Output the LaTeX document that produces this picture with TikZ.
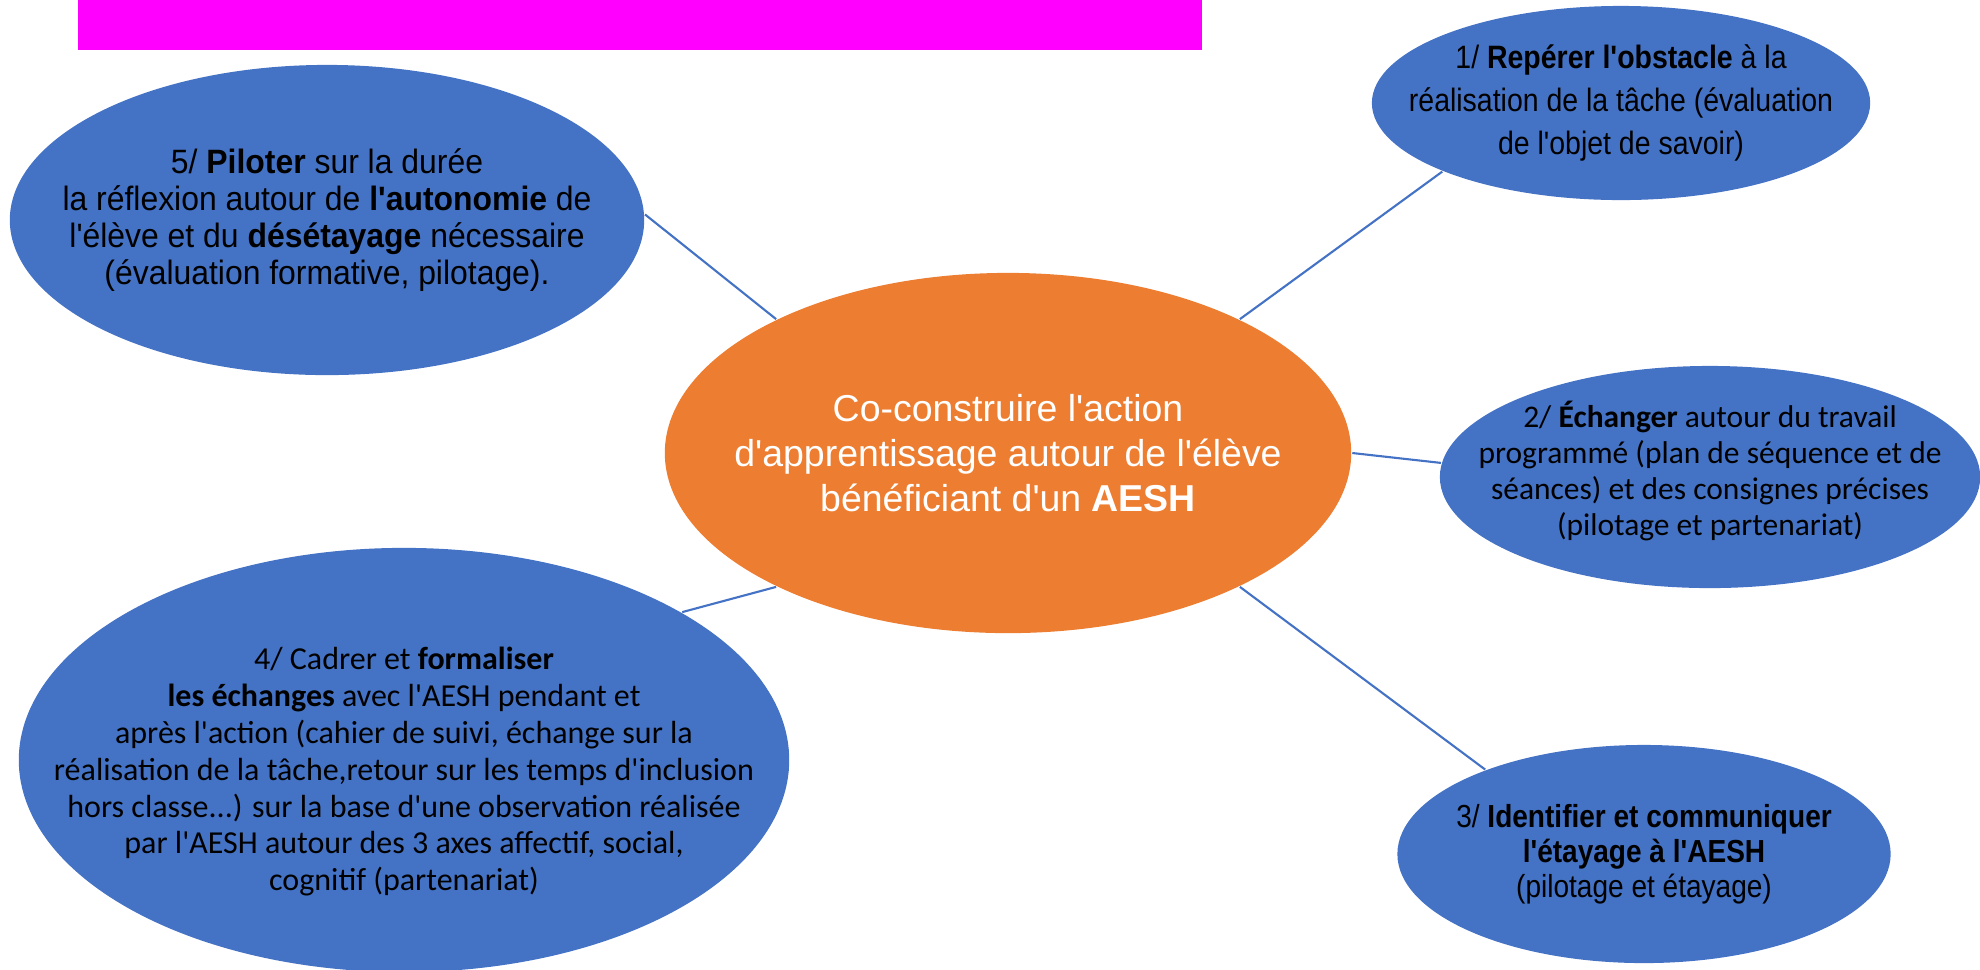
\documentclass[tikz,border=0pt]{standalone}
\usepackage{fontspec}
\setmainfont{Liberation Sans}
\newfontfamily\arial{Liberation Sans}
\newfontfamily\arialn[FakeStretch=0.88]{Liberation Sans}
\newfontfamily\arialm[FakeStretch=0.945]{Liberation Sans}
\newfontfamily\calib{Carlito}
\usepackage{xcolor}
\usepackage{tikz}
\usetikzlibrary{shapes,positioning}

\definecolor{bulle}{HTML}{4472C4}
\definecolor{coeur}{HTML}{ED7D31}
\definecolor{bandeau}{HTML}{FF00FF}

\begin{document}
\begin{tikzpicture}[x=0.01cm, y=-0.01cm, semithick,
  bulle/.style={ellipse, fill=bulle, inner sep=-4cm, align=center, text=black},
  lien/.style={draw=bulle, line width=0.6pt}]

\useasboundingbox (0,0) rectangle (1980,969);

\fill[bandeau] (78,0) rectangle (1202,50);

\node[bulle, fill=coeur, minimum width=6.86cm, minimum height=3.60cm, text=white,
      font=\arial\fontsize{10.65}{12.8}\selectfont] (Coeur) at (1008,453)
  {Co-construire l'action\\d'apprentissage autour de l'élève\\bénéficiant d'un \textbf{AESH}};

\node[bulle, minimum width=4.98cm, minimum height=1.94cm, font=\arialn\fontsize{9.2}{12.2}\selectfont] (Etape1) at (1621,103)
  {1/ \textbf{Repérer l'obstacle} à la\\réalisation de la tâche (évaluation\\de l'objet de savoir)};

\node[bulle, minimum width=5.40cm, minimum height=2.22cm, font=\calib\fontsize{8.95}{10.3}\selectfont] (Etape2) at (1710,477)
  {2/ \textbf{Échanger} autour du travail\\programmé (plan de séquence et de\\séances) et des consignes précises\\(pilotage et partenariat)\\[-5.3pt]};

\node[bulle, minimum width=4.93cm, minimum height=2.18cm, font=\arialn\fontsize{9.06}{9.9}\selectfont] (Etape3) at (1644,854)
  {3/ \textbf{Identifier et communiquer}\\\textbf{l'étayage à l'AESH}\\(pilotage et étayage)};

\node[bulle, minimum width=7.70cm, minimum height=4.24cm, font=\calib\fontsize{9.1}{10.5}\selectfont] (Etape4) at (404,760)
  {\rule{0pt}{13pt}4/ Cadrer et \textbf{formaliser}\\\textbf{les échanges} avec l'AESH pendant et\\après l'action (cahier de suivi, échange sur la\\réalisation de la tâche,retour sur les temps d'inclusion\\hors classe...) sur la base d'une observation réalisée\\par l'AESH autour des 3 axes affectif, social,\\cognitif (partenariat)};

\node[bulle, minimum width=6.34cm, minimum height=3.10cm, font=\arialm\fontsize{9.6}{10.5}\selectfont] (Etape5) at (327,220)
  {5/ \textbf{Piloter} sur la durée\\la réflexion autour de \textbf{l'autonomie} de\\l'élève et du \textbf{désétayage} nécessaire\\(évaluation formative, pilotage).};

\path[lien] (Etape5.1)   edge (Coeur.150);
\path[lien] (Etape1.201) edge (Coeur.30);
\path[lien] (Etape2.177) edge (Coeur.0);
\path[lien] (Etape3.152) edge (Coeur.-30);
\path[lien] (Etape4.28)  edge (Coeur.210);

\end{tikzpicture}
\end{document}
